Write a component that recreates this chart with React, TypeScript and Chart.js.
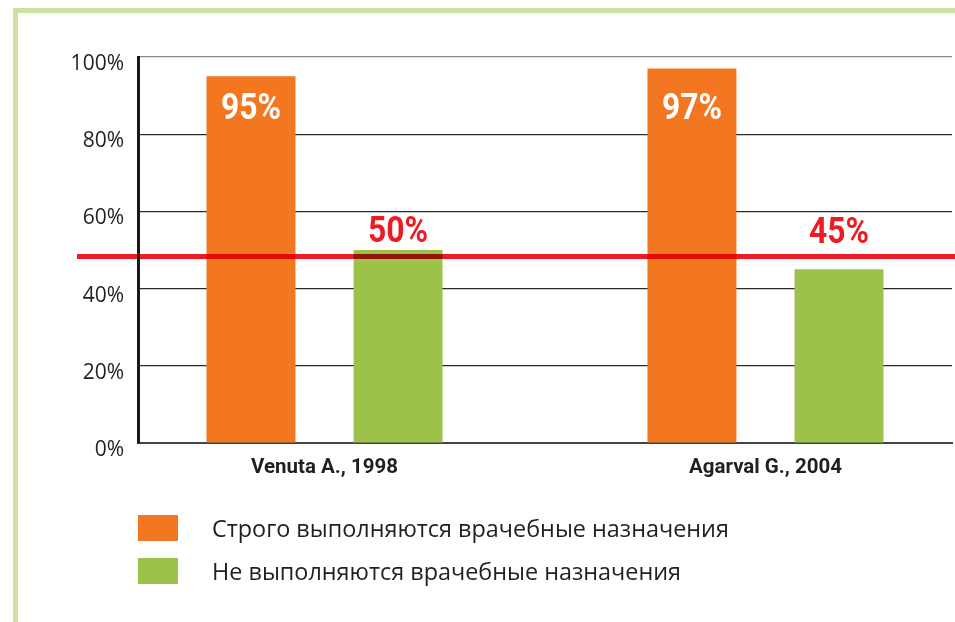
import React, { useEffect, useRef } from 'react';
import { Chart, registerables } from 'chart.js';

Chart.register(...registerables);

// ---- data ----
const categories = ['Venuta A., 1998', 'Agarval G., 2004'];
const seriesLabels = ['Строго выполняются врачебные назначения', 'Не выполняются врачебные назначения'];
const strictValues = [95, 97];
const notValues = [50, 45];
const thresholdValue = 48.3;
const yTickValues = [0, 20, 40, 60, 80, 100];

// ---- styles ----
const ORANGE = '#f37621';
const GREEN = '#9dc24a';
const RED = '#ed1c24';
const FRAME = '#cce0a0';
const TEXT = '#231f20';

export default function App() {
  const ref = useRef<HTMLCanvasElement>(null);

  useEffect(() => {
    const canvas = ref.current;
    if (!canvas) return;

    const framePlugin = {
      id: 'frame',
      beforeDraw(chart: any) {
        const { ctx, width, height } = chart;
        ctx.save();
        ctx.fillStyle = '#ffffff';
        ctx.fillRect(0, 0, width, height);
        ctx.fillStyle = FRAME;
        ctx.fillRect(13, 8, width - 13, 5);
        ctx.fillRect(13, 8, 5, height - 8);
        ctx.restore();
      },
    };

    const overlayPlugin = {
      id: 'overlay',
      afterDatasetsDraw(chart: any) {
        const { ctx, chartArea } = chart;
        const y = chart.scales.y;
        const lineY = y.getPixelForValue(thresholdValue);
        ctx.save();
        ctx.globalCompositeOperation = 'multiply';
        ctx.strokeStyle = RED;
        ctx.lineWidth = 5;
        ctx.beginPath();
        ctx.moveTo(chartArea.left - 61, lineY);
        ctx.lineTo(chart.width, lineY);
        ctx.stroke();
        ctx.restore();

        const drawCond = (text: string, x: number, baseline: number, color: string) => {
          ctx.save();
          ctx.font = 'bold 37px Roboto';
          ctx.fillStyle = color;
          ctx.textAlign = 'center';
          ctx.textBaseline = 'alphabetic';
          ctx.translate(x, baseline);
          ctx.scale(0.86, 1);
          ctx.fillText(text, 0, 0);
          ctx.restore();
        };
        chart.getDatasetMeta(0).data.forEach((bar: any, i: number) => {
          drawCond(strictValues[i] + '%', bar.x, chartArea.top + 62, '#ffffff');
        });
        chart.getDatasetMeta(1).data.forEach((bar: any, i: number) => {
          drawCond(notValues[i] + '%', bar.x, Math.min(bar.y - 8, lineY - 14), RED);
        });
      },
      afterDraw(chart: any) {
        const { ctx, chartArea } = chart;
        chart.data.datasets.forEach((ds: any, i: number) => {
          const bx = chartArea.left;
          const by = chartArea.bottom + 72 + i * 43;
          ctx.save();
          ctx.fillStyle = ds.backgroundColor;
          ctx.fillRect(bx, by, 40, 26);
          ctx.fillStyle = TEXT;
          ctx.font = '23.4px "Open Sans"';
          ctx.textAlign = 'left';
          ctx.textBaseline = 'alphabetic';
          ctx.fillText(ds.label, bx + 74, by + 22);
          ctx.restore();
        });
      },
    };

    const chart = new Chart(canvas, {
      type: 'bar',
      data: {
        datasets: [
          {
            label: seriesLabels[0],
            data: strictValues.map((v, i) => ({ x: i, y: v })),
            backgroundColor: ORANGE,
            categoryPercentage: 0.667,
            barPercentage: 0.605,
          },
          {
            label: seriesLabels[1],
            data: notValues.map((v, i) => ({ x: i, y: v })),
            backgroundColor: GREEN,
            categoryPercentage: 0.667,
            barPercentage: 0.605,
          },
        ],
      },
      options: {
        responsive: false,
        animation: false,
        events: [],
        layout: { padding: { top: 57, right: 3, left: 0, bottom: 0 } },
        plugins: {
          legend: { display: false },
          tooltip: { enabled: false },
          title: { display: false },
        },
        scales: {
          x: {
            type: 'linear',
            min: -0.423,
            max: 1.423,
            offset: false,
            afterBuildTicks: (s: any) => {
              s.ticks = categories.map((_, i) => ({ value: i }));
            },
            afterFit: (s: any) => {
              s.height = 179;
            },
            grid: { display: false, drawTicks: false },
            border: { display: true, color: '#444444', width: 2 },
            ticks: {
              callback: (v: any) => categories[v],
              font: { family: 'Roboto', weight: 'bold', size: 20.5 },
              color: TEXT,
              padding: 13,
              maxRotation: 0,
              autoSkip: false,
            },
          },
          y: {
            min: 0,
            max: 100,
            afterBuildTicks: (s: any) => {
              s.ticks = yTickValues.map((v) => ({ value: v }));
            },
            afterFit: (s: any) => {
              s.width = 138;
            },
            grid: {
              color: (c: any) => (c.tick && c.tick.value === 100 ? '#8a8a8a' : '#2b2b2b'),
              lineWidth: 1.2,
              drawTicks: false,
            },
            border: { color: '#1a1a1a', width: 3 },
            ticks: {
              callback: (v: any) => v + '%',
              font: { family: 'Open Sans', size: 21 },
              color: TEXT,
              padding: 14,
              labelOffset: 7,
            },
          },
        },
      },
      plugins: [framePlugin, overlayPlugin],
    } as any);

    return () => chart.destroy();
  }, []);

  return (
    <div style={{ position: 'fixed', left: 0, top: 0, width: 955, height: 622, background: '#fff' }}>
      <canvas ref={ref} width={955} height={622} style={{ display: 'block' }} />
    </div>
  );
}
